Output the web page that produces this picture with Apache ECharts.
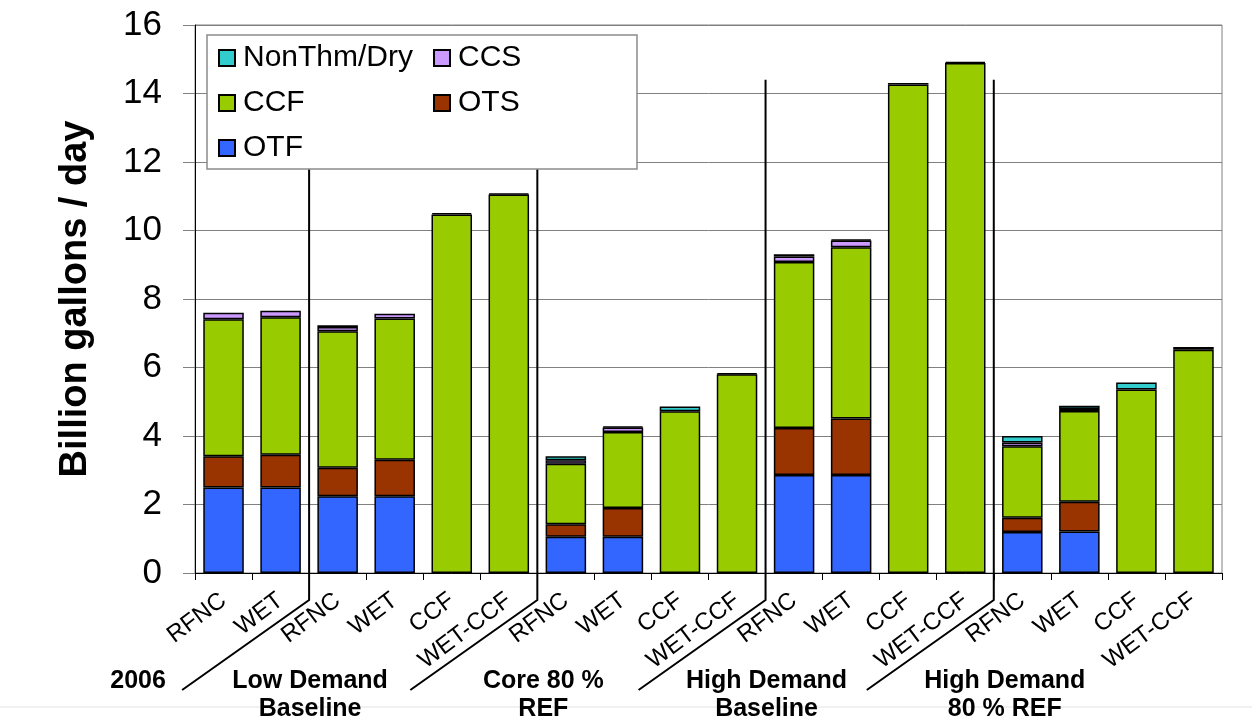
<!DOCTYPE html>
<html><head><meta charset="utf-8">
<script src="https://cdn.jsdelivr.net/npm/echarts@6/dist/echarts.min.js"></script>
<style>html,body{margin:0;padding:0;background:#fff}#c{width:1252px;height:725px}</style>
</head><body><div id="c"></div>
<script>
const categories = ['RFNC','WET','RFNC','WET','CCF','WET-CCF','RFNC','WET','CCF','WET-CCF','RFNC','WET','CCF','WET-CCF','RFNC','WET','CCF','WET-CCF'];
const groupLabels = ['2006','Low Demand\nBaseline','Core 80 %\nREF','High Demand\nBaseline','High Demand\n80 % REF'];
const groupBoundaries = [2, 6, 10, 14];
const yTicks = [0, 2, 4, 6, 8, 10, 12, 14, 16];

const OTF    = [2.50, 2.50, 2.24, 2.24, null, null, 1.06, 1.06, null, null, 2.86, 2.86, null, null, 1.20, 1.21, null, null];
const OTS    = [0.91, 0.95, 0.83, 1.07, null, null, 0.36, 0.84, null, null, 1.37, 1.65, null, null, 0.41, 0.87, null, null];
const CCF    = [4.00, 4.02, 3.99, 4.12, 10.47, 11.05, 1.77, 2.22, 4.72, 5.80, 4.85, 5.00, 14.26, 14.89, 2.09, 2.65, 5.36, 6.52];
const CCS    = [0.19, 0.19, 0.12, 0.14, null, null, 0.10, 0.13, null, null, 0.16, 0.20, null, null, 0.11, 0.06, null, null];
const NonThm = [null, null, 0.05, null, 0.04, 0.03, 0.12, 0.03, 0.14, 0.03, 0.07, 0.03, 0.05, 0.03, 0.19, 0.09, 0.20, 0.08];

const FONT = 'Liberation Sans, Arial, sans-serif';
const chart = echarts.init(document.getElementById('c'));

function bar(name, data, color) {
  return {
    name, type: 'bar', stack: 'total', data, barWidth: '71%',
    itemStyle: { color, borderColor: '#000', borderWidth: 1.5 },
    emphasis: { disabled: true }
  };
}
const legendCommon = {
  orient: 'vertical', top: 43, padding: 0, itemGap: 15, itemWidth: 16, itemHeight: 16, z: 10,
  icon: 'rect', selectedMode: false,
  textStyle: { fontSize: 30, lineHeight: 30, color: '#000', fontFamily: FONT, padding: [0, 0, 0, 3] }
};

chart.setOption({
  animation: false,
  textStyle: { fontFamily: FONT },
  grid: { left: 195, right: 30, top: 25, bottom: 152, show: true, borderColor: '#808080', borderWidth: 1 },
  legend: [
    Object.assign({ left: 218, data: ['NonThm/Dry', 'CCF', 'OTF'] }, legendCommon),
    Object.assign({ left: 433, data: ['CCS', 'OTS'] }, legendCommon)
  ],
  xAxis: {
    type: 'category',
    data: categories.map((c, i) => String(i)),
    axisLine: { lineStyle: { color: '#000', width: 1 } },
    axisTick: { show: true, length: 7, lineStyle: { color: '#000' } },
    axisLabel: { interval: 0, rotate: 37, fontSize: 24, color: '#000', margin: 25, fontFamily: FONT,
      padding: [20, 0, 0, 0], formatter: v => categories[+v] }
  },
  yAxis: {
    type: 'value', min: yTicks[0], max: yTicks[yTicks.length - 1], interval: 2,
    name: 'Billion gallons / day', nameLocation: 'middle', nameGap: 100,
    nameTextStyle: { fontSize: 38, fontWeight: 'bold', color: '#000', fontFamily: FONT },
    axisLine: { show: true, lineStyle: { color: '#000', width: 1 } },
    axisTick: { show: true, length: 12, lineStyle: { color: '#808080' } },
    axisLabel: { fontSize: 35, color: '#000', margin: 33, fontFamily: FONT },
    splitLine: { lineStyle: { color: '#808080', width: 1 } }
  },
  series: [
    bar('OTF', OTF, '#3366FF'),
    bar('OTS', OTS, '#993300'),
    bar('CCF', CCF, '#99CC00'),
    bar('CCS', CCS, '#CC99FF'),
    bar('NonThm/Dry', NonThm, '#33CCCC')
  ]
});

const px = i => chart.convertToPixel({ xAxisIndex: 0 }, String(i));
const py = v => chart.convertToPixel({ yAxisIndex: 0 }, v);
const y0 = py(0), yTop = py(14.4);
const elements = [];
// faint slide rule line at the bottom
elements.push({ type: 'line', z: 1, silent: true, shape: { x1: 0, y1: y0 + 134, x2: 1252, y2: y0 + 134 },
  style: { stroke: '#e3e3e3', lineWidth: 1 } });
const sepX = groupBoundaries.map(b => (px(b - 1) + px(b)) / 2);
sepX.forEach(x => {
  elements.push({ type: 'polyline', z: 3, silent: true,
    shape: { points: [[x, yTop], [x, y0 + 27], [x - 127, y0 + 117]] },
    style: { stroke: '#000', lineWidth: 2, fill: null } });
});
const labelX = [sepX[0] - 171, sepX[0] + 1, sepX[1] + 6, sepX[2] + 1, sepX[3] + 11];
groupLabels.forEach((t, i) => {
  elements.push({ type: 'text', z: 3, silent: true, x: labelX[i], y: y0 + 94,
    style: { text: t, fontSize: 25, fontWeight: 'bold', fontFamily: FONT, fill: '#000',
      align: 'center', verticalAlign: 'top', lineHeight: 28 } });
});
elements.push({ type: 'rect', z: 5, silent: true, shape: { x: 207, y: 35, width: 430, height: 134 },
  style: { fill: '#fff', stroke: '#8c8c8c', lineWidth: 1.5 } });
chart.setOption({ graphic: { elements } });
</script>
</body></html>
